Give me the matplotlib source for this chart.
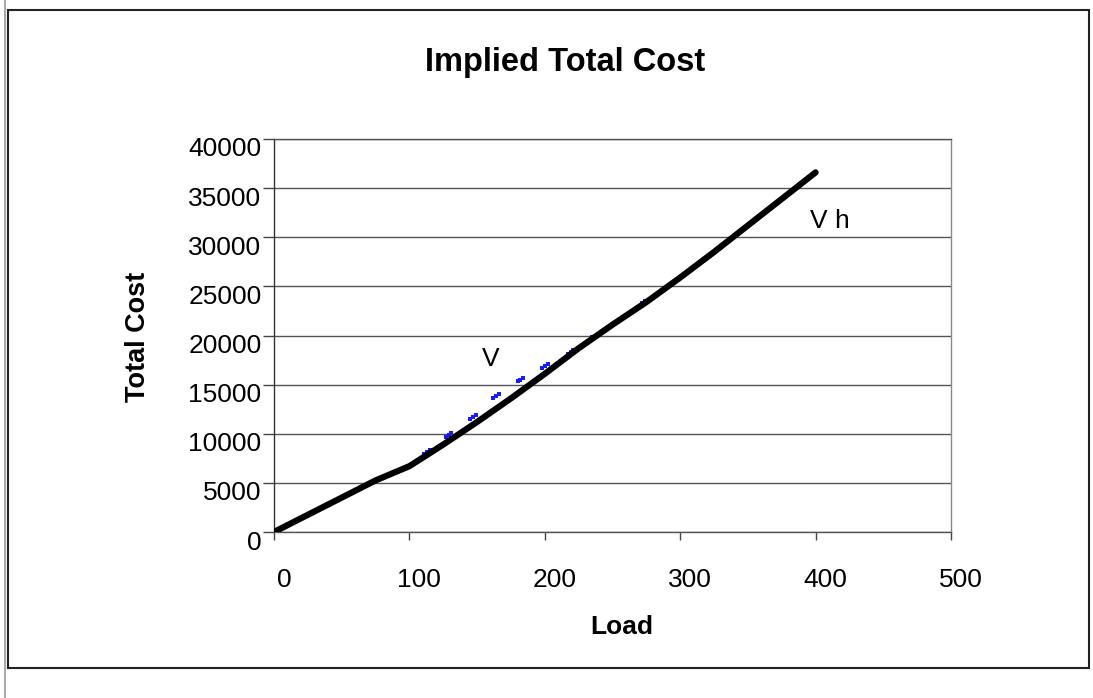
"""
Implied total cost vs. load, Excel-style chart.
"""

import matplotlib
matplotlib.use('Agg')
import matplotlib.pyplot as plt
from matplotlib.patches import Rectangle
from matplotlib.lines import Line2D
from matplotlib.transforms import ScaledTranslation

plt.rcParams['font.family'] = ['Liberation Sans', 'DejaVu Sans']

# Total cost curve
load = [0, 25, 50, 75, 100, 125, 150, 175, 200, 225, 250, 275, 300, 325, 350, 375, 400]
total_cost = [0, 1750, 3500, 5250, 6700, 8900, 11200, 13600, 16100, 18700, 21100,
              23400, 25900, 28500, 31200, 33900, 36600]

# Small blue points sitting just above the curve
blue_load = [111, 113, 115, 127, 129, 131, 145, 147, 149, 162, 164, 166,
             180, 182, 184, 198, 200, 202, 217, 219, 221, 235, 237, 239,
             254, 256, 272, 274]
blue_cost = [7900, 8100, 8300, 9700, 9900, 10100, 11550, 11750, 11950,
             13600, 13800, 14000, 15350, 15500, 15650, 16650, 16850, 17050,
             18100, 18300, 18500, 19800, 20000, 20200, 21500, 21700, 23300, 23500]

x_ticks = [0, 100, 200, 300, 400, 500]
y_ticks = [0, 5000, 10000, 15000, 20000, 25000, 30000, 35000, 40000]

W, H = 1093, 698
fig = plt.figure(figsize=(W / 100, H / 100), dpi=100)
ax = fig.add_axes([274 / W, 166 / H, 677 / W, 393 / H])

ax.plot(blue_load, blue_cost, 's', color='#1a1aff', markersize=2.2,
        markeredgewidth=0, zorder=2)
ax.plot(load, total_cost, '-', color='black', linewidth=4.5,
        solid_capstyle='round', solid_joinstyle='round', zorder=3)

ax.set_xlim(0, 500)
ax.set_ylim(0, 40000)
ax.set_xticks(x_ticks)
ax.set_yticks(y_ticks)
ax.set_xticklabels([str(v) for v in x_ticks])
ax.set_yticklabels([str(v) for v in y_ticks])

ax.yaxis.grid(True, color='#555555', linewidth=1)
ax.set_axisbelow(True)
ax.spines['left'].set_color('#333333')
ax.spines['bottom'].set_color('#555555')
ax.spines['right'].set_color('#888888')
ax.spines['top'].set_color('#555555')
for s in ax.spines.values():
    s.set_linewidth(1)

ax.tick_params(axis='y', direction='out', length=8, width=1, color='#444444',
               pad=1, labelsize=19)
ax.tick_params(axis='x', direction='out', length=6, width=1, color='#444444',
               pad=20, labelsize=19)

# Excel places labels a little off the ticks
for lab in ax.get_yticklabels():
    lab.set_transform(lab.get_transform() + ScaledTranslation(0, -0.08, fig.dpi_scale_trans))
for lab in ax.get_xticklabels():
    lab.set_transform(lab.get_transform() + ScaledTranslation(0.10, 0, fig.dpi_scale_trans))

ax.text(160, 17600, 'V', ha='center', va='center', fontsize=19)
ax.text(396, 31700, 'V h', ha='left', va='center', fontsize=19)

fig.text(565 / W, 1 - 62 / H, 'Implied Total Cost', ha='center', va='center',
         fontsize=23.5, weight='bold')
fig.text(138 / W, 1 - 337 / H, 'Total Cost', ha='center', va='center',
         rotation=90, fontsize=19.5, weight='bold')
fig.text(622 / W, 1 - 627 / H, 'Load', ha='center', va='center',
         fontsize=19, weight='bold')

# chart frame and the thin edge line on the left
fig.patches.append(Rectangle((8 / W, 30 / H), 1081 / W, 658 / H,
                             transform=fig.transFigure, fill=False,
                             edgecolor='#222222', linewidth=1.5))
fig.lines.append(Line2D([5 / W, 5 / W], [0, 1], transform=fig.transFigure,
                        color='#aaaaaa', linewidth=1.5))

fig.savefig('out.png', dpi=100)
